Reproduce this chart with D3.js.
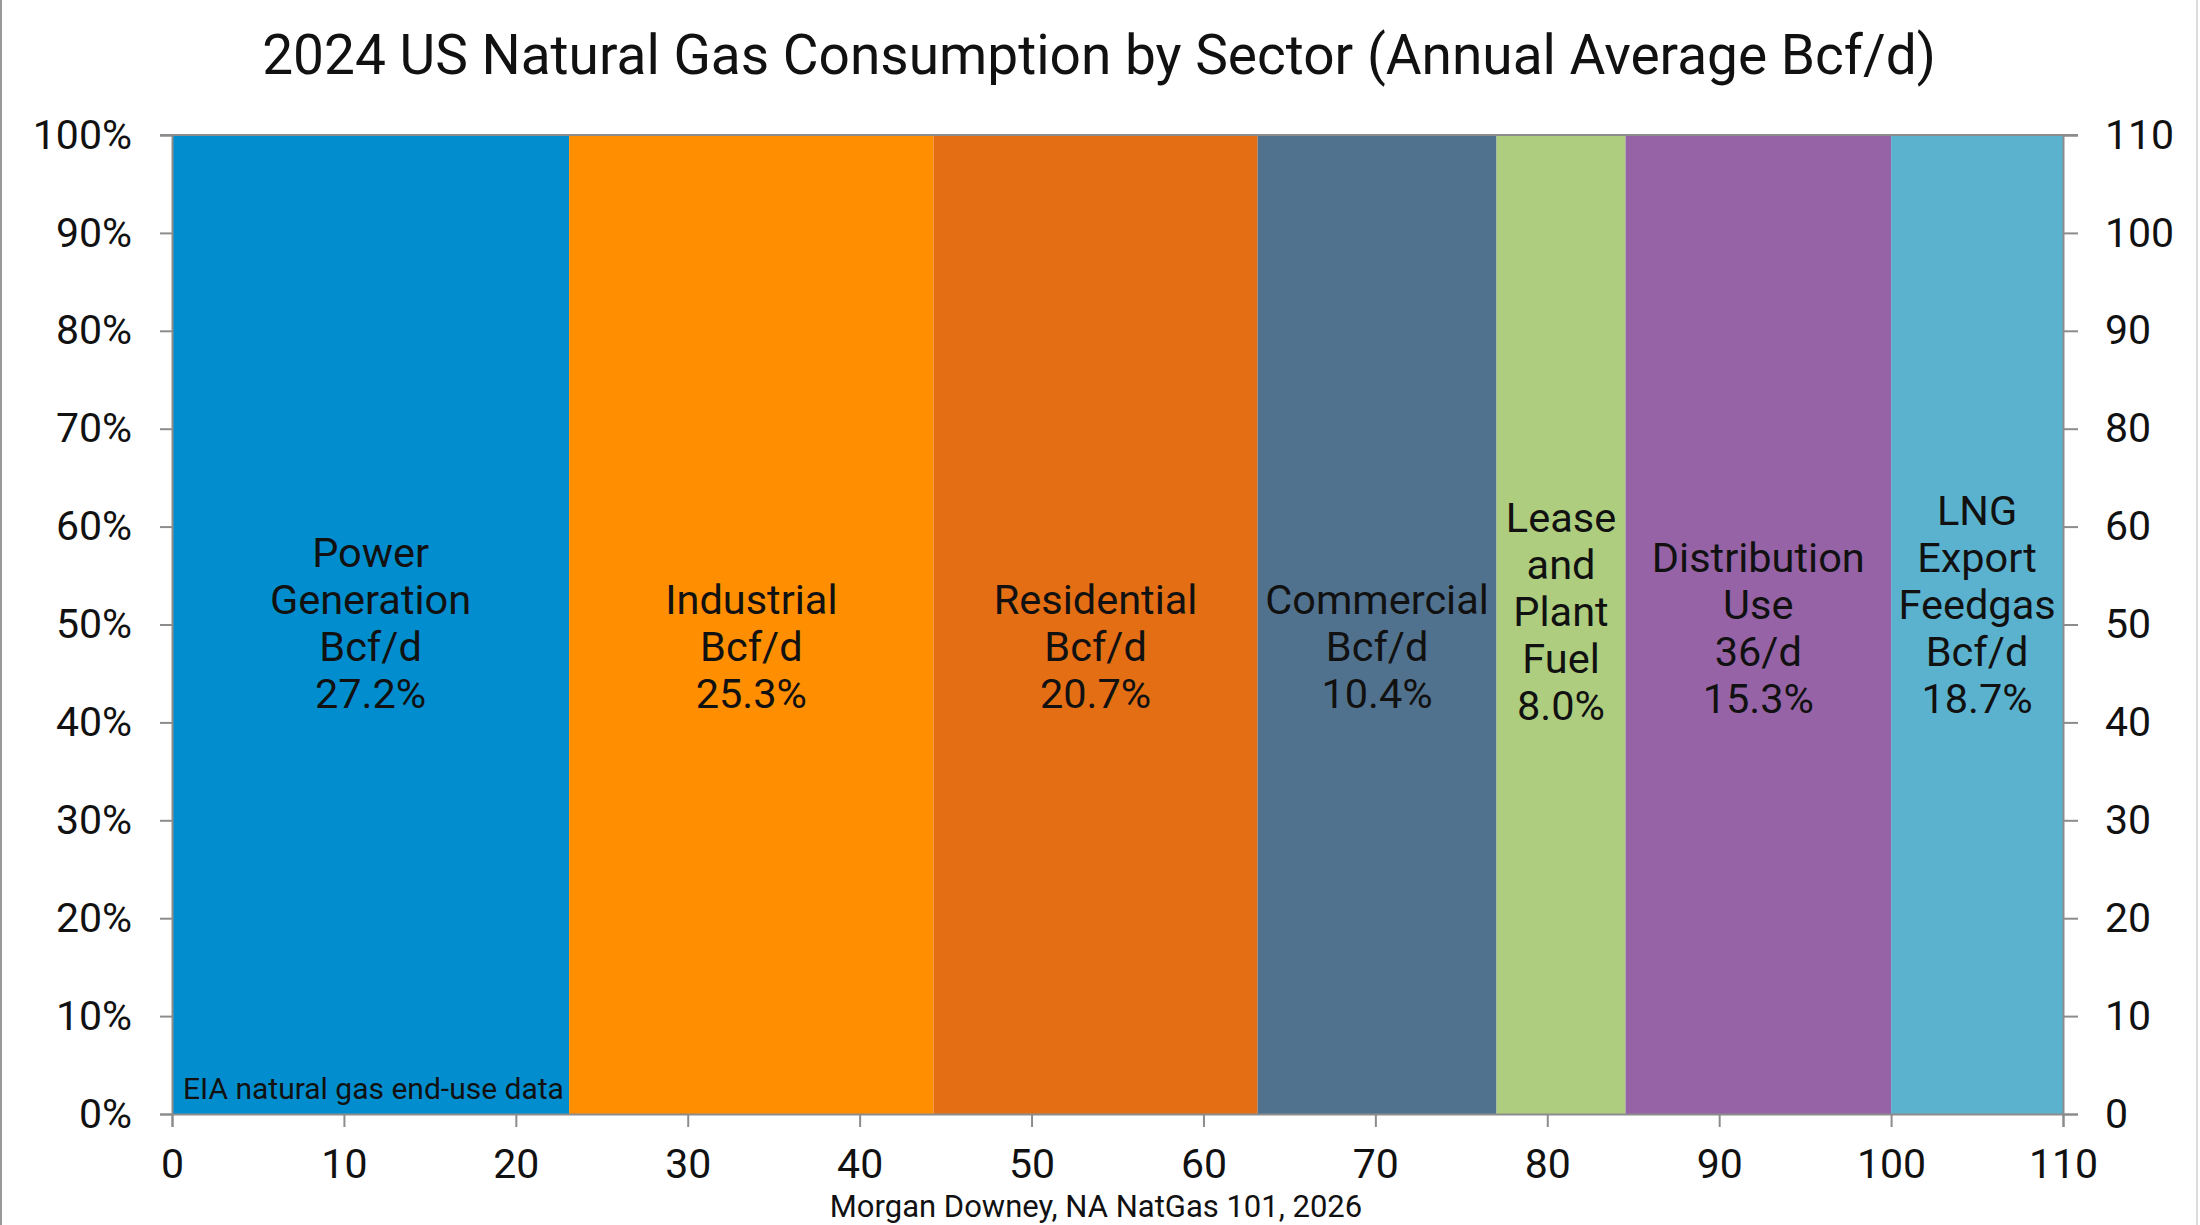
<!DOCTYPE html>
<html>
<head>
<meta charset="utf-8">
<script src="https://cdn.jsdelivr.net/npm/d3@7"></script>
<style>
  html, body { margin: 0; padding: 0; background: #fff; }
  svg { display: block; }
  text { font-family: Roboto, "Liberation Sans", Arial, sans-serif; fill: #111; }
</style>
</head>
<body>
<svg id="chart" width="2200" height="1225"></svg>
<script>
// ---- data ----
const sectors = ["Power Generation", "Industrial", "Residential", "Commercial", "Lease and Plant Fuel", "Distribution Use", "LNG Export Feedgas"];
const widthsBcfd = [23.1, 21.2, 18.85, 13.9, 7.5, 15.45, 10.0];
const labelLines = [
  ["Power", "Generation", "Bcf/d", "27.2%"],
  ["Industrial", "Bcf/d", "25.3%"],
  ["Residential", "Bcf/d", "20.7%"],
  ["Commercial", "Bcf/d", "10.4%"],
  ["Lease", "and", "Plant", "Fuel", "8.0%"],
  ["Distribution", "Use", "36/d", "15.3%"],
  ["LNG", "Export", "Feedgas", "Bcf/d", "18.7%"]
];
const labelLastLinePct = [43.0, 43.0, 43.0, 43.0, 41.8, 42.5, 42.5];
const colors = ["#028ECE", "#FF8E00", "#E46E14", "#51728F", "#AECD7E", "#9664A6", "#5BB2CF"];
const xTicks = [0, 10, 20, 30, 40, 50, 60, 70, 80, 90, 100, 110];
const yTicksPct = [0, 10, 20, 30, 40, 50, 60, 70, 80, 90, 100];
const rightTickLabels = ["0", "10", "20", "30", "40", "50", "60", "80", "90", "100", "110"];
const titleText = "2024 US Natural Gas Consumption by Sector (Annual Average Bcf/d)";
const noteText = "EIA natural gas end-use data";
const sourceText = "Morgan Downey, NA NatGas 101, 2026";

// ---- layout ----
const svg = d3.select("#chart");
const L = 172, R = 2063, T = 135, B = 1114;
const axisColor = "#8c8c8c";

const x = d3.scaleLinear().domain([0, 110]).range([L, R]);
const y = d3.scaleLinear().domain([0, 100]).range([B, T]);
const yRight = d3.scalePoint().domain(rightTickLabels).range([B, T]);

// page border lines
svg.append("line").attr("x1", 1).attr("x2", 1).attr("y1", 0).attr("y2", 1225)
  .attr("stroke", "#999").attr("stroke-width", 2);
svg.append("line").attr("x1", 2197).attr("x2", 2197).attr("y1", 0).attr("y2", 1225)
  .attr("stroke", "#ddd").attr("stroke-width", 2);

// cumulative positions
let acc = 0;
const bars = widthsBcfd.map((w, i) => {
  const d = { i, name: sectors[i], x0: acc, x1: acc + w, color: colors[i], lines: labelLines[i], anchor: labelLastLinePct[i] };
  acc += w;
  return d;
});

svg.append("g").selectAll("rect").data(bars).join("rect")
  .attr("x", d => x(d.x0))
  .attr("width", d => x(d.x1) - x(d.x0))
  .attr("y", y(100))
  .attr("height", y(0) - y(100))
  .attr("fill", d => d.color);

// bar labels
const lineH = 47;
const fs = 41.5;
const lg = svg.append("g");
bars.forEach(d => {
  const cx = (x(d.x0) + x(d.x1)) / 2;
  const n = d.lines.length;
  const lastCenter = y(d.anchor);
  const t = lg.append("text")
    .attr("text-anchor", "middle")
    .attr("font-size", fs);
  d.lines.forEach((ln, k) => {
    t.append("tspan")
      .attr("x", cx)
      .attr("y", lastCenter - (n - 1 - k) * lineH)
      .attr("dy", "0.36em")
      .text(ln);
  });
});

// frame top
svg.append("line").attr("x1", L - 12).attr("x2", R + 15).attr("y1", T).attr("y2", T)
  .attr("stroke", axisColor).attr("stroke-width", 2);

// left axis
const gl = svg.append("g").attr("transform", `translate(${L},0)`)
  .call(d3.axisLeft(y).tickValues(yTicksPct).tickFormat(d => d + "%").tickSize(12).tickPadding(28));
// right axis
const gr = svg.append("g").attr("transform", `translate(${R},0)`)
  .call(d3.axisRight(yRight).tickSize(15).tickPadding(27));
// bottom axis
const gb = svg.append("g").attr("transform", `translate(0,${B})`)
  .call(d3.axisBottom(x).tickValues(xTicks).tickFormat(d3.format("d")).tickSize(13).tickPadding(22));

[gl, gr, gb].forEach(g => {
  g.selectAll("path.domain").attr("stroke", axisColor).attr("stroke-width", 2);
  g.selectAll(".tick line").attr("stroke", axisColor).attr("stroke-width", 2);
  g.selectAll(".tick text").attr("font-size", 41).attr("fill", "#111")
    .style("font-family", 'Roboto, "Liberation Sans", Arial, sans-serif');
});
gr.selectAll(".tick text").filter(d => d === "0").attr("fill", "#888");

// title
svg.append("text").attr("x", 1099).attr("y", 74)
  .attr("text-anchor", "middle").attr("font-size", 55)
  .text(titleText);

// note inside first bar
svg.append("text").attr("x", 183).attr("y", 1099)
  .attr("font-size", 30).text(noteText);

// source
svg.append("text").attr("x", 1096).attr("y", 1217)
  .attr("text-anchor", "middle").attr("font-size", 31).text(sourceText);
</script>
</body>
</html>
